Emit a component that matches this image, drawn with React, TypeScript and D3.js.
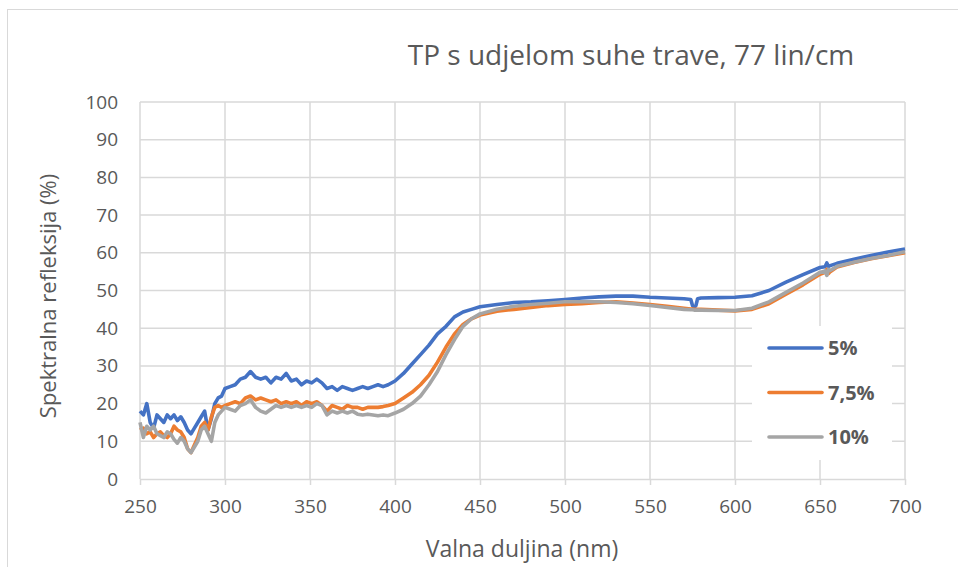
import React, { useRef, useEffect } from 'react';
import * as d3 from 'd3';

const wavelengths = [
  250, 252, 254, 256, 258, 260, 262, 264, 266, 268, 270, 272, 274, 276, 278, 280, 282, 284, 286, 288,
  290, 292, 294, 296, 298, 300, 303, 306, 309, 312, 315, 318, 321, 324, 327, 330, 333, 336, 339, 342,
  345, 348, 351, 354, 357, 360, 363, 366, 369, 372, 375, 378, 381, 384, 387, 390, 393, 396, 400, 405,
  410, 415, 420, 425, 430, 435, 440, 445, 450, 460, 470, 480, 490, 500, 510, 520, 530, 540, 550, 560,
  570, 574, 575, 576, 577, 578, 580, 590, 600, 610, 620, 630, 640, 650, 653, 654, 655, 656, 660, 670,
  680, 690, 700,
];

const series5 = [
  18, 17, 20, 15, 13.5, 17, 16, 15, 17, 16, 17, 15.5, 16.5, 15, 13, 12, 13.5, 15, 16.5, 18,
  13, 16, 20, 21.5, 22, 24, 24.5, 25, 26.5, 27, 28.5, 27, 26.5, 27, 25.5, 27, 26.5, 28, 26, 26.5,
  25, 26, 25.5, 26.5, 25.5, 24, 24.5, 23.5, 24.5, 24, 23.5, 24, 24.5, 24, 24.5, 25, 24.5, 25, 26, 28,
  30.5, 33, 35.5, 38.5, 40.5, 43, 44.3, 45, 45.7, 46.3, 46.8, 47, 47.3, 47.6, 48, 48.3, 48.5, 48.5, 48.2, 48,
  47.8, 47.6, 46, 45.6, 46, 47.8, 48, 48.1, 48.2, 48.6, 50, 52.2, 54.2, 56.1, 56.3, 57.3, 56.4, 56.6, 57.2, 58.3,
  59.3, 60.2, 61,
];

const series75 = [
  13, 13.5, 12, 12.5, 11, 12, 12.5, 11.5, 11, 12, 14, 13, 12.5, 11, 8, 7, 9, 11, 14, 15,
  13, 16.5, 19, 19.5, 19, 19.5, 20, 20.5, 20, 21.5, 22, 21, 21.5, 21, 20.5, 21, 20, 20.5, 20, 20.5,
  19.5, 20.5, 20, 20.5, 19.5, 18, 19.5, 19, 18.5, 19.5, 19, 19, 18.5, 19, 19, 19, 19.2, 19.5, 20, 21.5,
  23, 25, 27.5, 31, 35, 38.5, 41, 42.5, 43.5, 44.5, 45, 45.5, 46, 46.3, 46.5, 46.8, 47, 46.7, 46.3, 45.8,
  45.3, 45.1, 45.1, 45, 45, 45, 45, 44.8, 44.6, 45, 46.5, 49, 51.5, 54.3, 54.8, 55.6, 54.5, 55, 56.2, 57.4,
  58.4, 59.2, 60,
];

const series10 = [
  15, 11, 14, 13, 14, 12, 11.5, 11, 12.5, 12, 10.5, 9.5, 11, 10, 8, 7, 8.5, 10, 13, 14,
  12, 10, 15, 17, 18, 19, 18.5, 18, 19.5, 20, 21, 19, 18, 17.5, 18.5, 19.5, 19, 19.5, 19, 19.5,
  19, 19.5, 19, 20, 19.5, 17, 18, 17.5, 18, 17.5, 18, 17.2, 17, 17.2, 17, 16.8, 17, 16.8, 17.5, 18.5,
  20, 22, 25, 28.5, 33, 37, 40.5, 42.5, 43.8, 45, 45.8, 46.3, 46.6, 47, 47, 47, 46.8, 46.5, 46, 45.5,
  45, 44.9, 44.9, 44.8, 44.8, 44.8, 44.8, 44.7, 44.7, 45.3, 47, 49.5, 52, 54.8, 55.2, 54, 55.6, 55.3, 56.4, 57.5,
  58.5, 59.3, 60.3,
];

const seriesNames = ['5%', '7,5%', '10%'];
const seriesColors = ['#4472C4', '#ED7D31', '#A5A5A5'];
const xTicks = [250, 300, 350, 400, 450, 500, 550, 600, 650, 700];
const yTicks = [0, 10, 20, 30, 40, 50, 60, 70, 80, 90, 100];

const title = 'TP s udjelom suhe trave, 77 lin/cm';
const xTitle = 'Valna duljina (nm)';
const yTitle = 'Spektralna refleksija (%)';

const font = '"Open Sans", sans-serif';
const textColor = '#595959';
const gridColor = '#d9d9d9';

const App = () => {
  const ref = useRef<SVGSVGElement>(null);

  useEffect(() => {
    const svg = d3.select(ref.current);
    svg.selectAll('*').remove();

    const width = 958;
    const height = 567;
    const margin = { top: 102, right: 53, bottom: 88, left: 140 };

    const x = d3.scaleLinear()
      .domain([250, 700])
      .range([margin.left, width - margin.right]);
    const y = d3.scaleLinear()
      .domain([0, 100])
      .range([height - margin.bottom, margin.top]);

    svg.append('rect')
      .attr('x', 0).attr('y', 0)
      .attr('width', width).attr('height', height)
      .attr('fill', '#fff');

    // chart border
    svg.append('rect')
      .attr('x', 7.5).attr('y', 9.5)
      .attr('width', width + 10).attr('height', height + 10)
      .attr('fill', 'none')
      .attr('stroke', gridColor)
      .attr('stroke-width', 1);

    // horizontal grid
    svg.append('g')
      .selectAll('line')
      .data(yTicks.filter(d => d > 0))
      .join('line')
      .attr('x1', x(250)).attr('x2', x(700))
      .attr('y1', d => y(d)).attr('y2', d => y(d))
      .attr('stroke', gridColor)
      .attr('stroke-width', 1.5);

    // vertical grid
    svg.append('g')
      .selectAll('line')
      .data(xTicks)
      .join('line')
      .attr('x1', d => x(d)).attr('x2', d => x(d))
      .attr('y1', y(0)).attr('y2', y(100))
      .attr('stroke', gridColor)
      .attr('stroke-width', 1.5);

    // x axis
    const xAxis = svg.append('g')
      .attr('transform', `translate(0,${y(0)})`)
      .call(d3.axisBottom(x).tickValues(xTicks).tickSize(6).tickSizeOuter(0).tickPadding(15));
    xAxis.select('.domain').attr('stroke', gridColor).attr('stroke-width', 1.5);
    xAxis.selectAll('.tick line').attr('stroke', gridColor).attr('stroke-width', 1.5);
    xAxis.selectAll('text')
      .attr('fill', textColor)
      .style('font-family', font)
      .style('font-size', '19px');

    // y axis labels
    const yAxis = svg.append('g')
      .attr('transform', `translate(${margin.left},0)`)
      .call(d3.axisLeft(y).tickValues(yTicks).tickSize(0).tickPadding(22));
    yAxis.select('.domain').remove();
    yAxis.selectAll('text')
      .attr('fill', textColor)
      .style('font-family', font)
      .style('font-size', '19px');

    // lines
    const allSeries = [series5, series75, series10];
    const line = d3.line<number>()
      .x((_, i) => x(wavelengths[i]))
      .y(d => y(d));

    svg.append('g')
      .selectAll('path')
      .data(allSeries)
      .join('path')
      .attr('d', d => line(d))
      .attr('fill', 'none')
      .attr('stroke', (_, i) => seriesColors[i])
      .attr('stroke-width', 3.6)
      .attr('stroke-linejoin', 'round');

    // legend
    const legend = svg.append('g');
    legend.append('rect')
      .attr('x', 752).attr('y', 326)
      .attr('width', 140).attr('height', 134)
      .attr('fill', '#fff');
    const items = legend.selectAll('g.item')
      .data(seriesNames)
      .join('g')
      .attr('class', 'item')
      .attr('transform', (_, i) => `translate(0,${348 + i * 44.5})`);
    items.append('line')
      .attr('x1', 769).attr('x2', 822)
      .attr('y1', 0).attr('y2', 0)
      .attr('stroke', (_, i) => seriesColors[i])
      .attr('stroke-width', 3.6)
      .attr('stroke-linecap', 'round');
    items.append('text')
      .attr('x', 828).attr('y', 0)
      .attr('dy', '0.35em')
      .attr('fill', textColor)
      .style('font-family', font)
      .style('font-size', '20px')
      .style('font-weight', 'bold')
      .text(d => d);

    // title
    svg.append('text')
      .attr('x', 631).attr('y', 55)
      .attr('dy', '0.35em')
      .attr('text-anchor', 'middle')
      .attr('fill', textColor)
      .style('font-family', font)
      .style('font-size', '28px')
      .text(title);

    // axis titles
    svg.append('text')
      .attr('x', 522).attr('y', 549)
      .attr('dy', '0.35em')
      .attr('text-anchor', 'middle')
      .attr('fill', textColor)
      .style('font-family', font)
      .style('font-size', '23px')
      .text(xTitle);

    svg.append('text')
      .attr('transform', 'translate(48,296) rotate(-90)')
      .attr('dy', '0.35em')
      .attr('text-anchor', 'middle')
      .attr('fill', textColor)
      .style('font-family', font)
      .style('font-size', '22px')
      .text(yTitle);
  }, []);

  return (
    <svg
      ref={ref}
      width={958}
      height={567}
      style={{ position: 'absolute', left: 0, top: 0, display: 'block' }}
    />
  );
};

export default App;
